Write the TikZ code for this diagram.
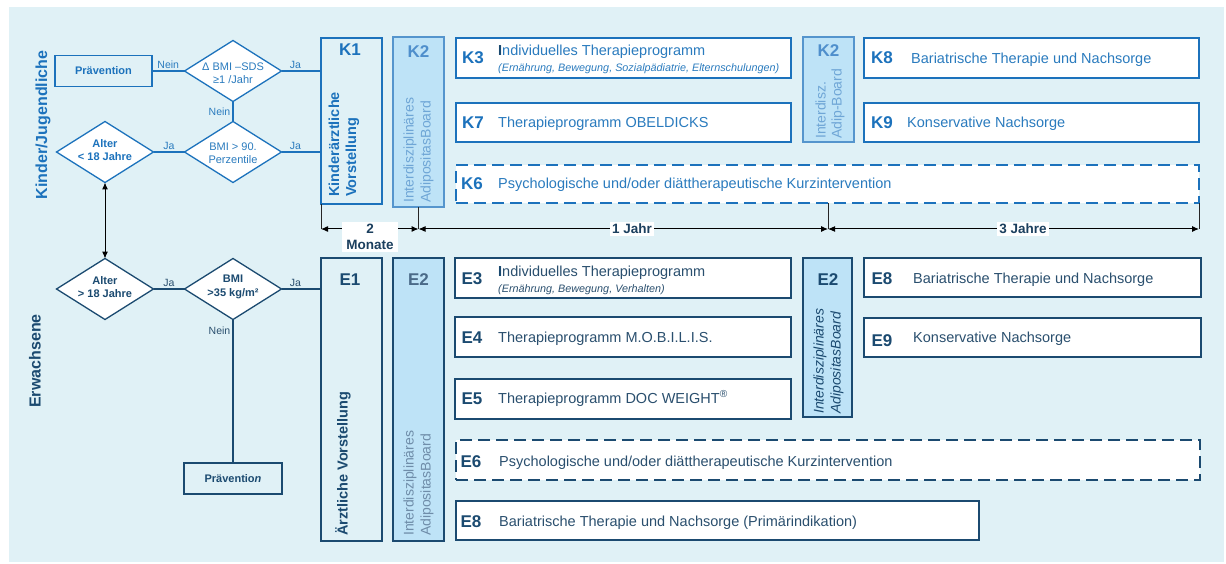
\documentclass[tikz,border=0pt]{standalone}
\usepackage{fontspec}
\setmainfont{Liberation Sans}
\usetikzlibrary{shapes.geometric,arrows.meta}
\definecolor{bg}{HTML}{E0F1F6}
\definecolor{kblue}{HTML}{1C72BC}
\definecolor{ktext}{HTML}{2A7BBE}
\definecolor{navy}{HTML}{1B4A70}
\definecolor{etext}{HTML}{2A4F6E}
\definecolor{lfill}{HTML}{BEE3F7}
\definecolor{kfade}{HTML}{6FA6D6}
\definecolor{kmid}{HTML}{4F8FCC}
\definecolor{efade}{HTML}{6F8DA9}
\definecolor{emid}{HTML}{4A6A88}
\definecolor{tldark}{HTML}{1B3F5E}
\newcommand\fs[2]{\fontsize{#1}{#2}\selectfont}
\tikzset{
  box/.style={line width=2.9pt, outer sep=0pt, inner sep=0pt, anchor=north west},
  kbox/.style={box, draw=kblue, fill=white},
  ebox/.style={box, draw=navy, fill=white},
  kopen/.style={box, draw=kblue},
  eopen/.style={box, draw=navy},
  kboard/.style={box, draw=kblue!75, fill=lfill, line width=2.5pt},
  eboard/.style={box, draw=navy, fill=lfill, line width=2.5pt},
  kdashed/.style={kbox, dash pattern=on 12pt off 6pt},
  edashed/.style={ebox, dash pattern=on 12pt off 6pt},
  pbox/.style={box, line width=1.4pt},
  dia/.style={diamond, fill=white, line width=1.3pt, minimum width=97pt,
    minimum height=61pt, inner sep=0pt, outer sep=0pt},
  dtext/.style={align=center, inner sep=0pt, font=\fs{11}{13.5}},
  klab/.style={anchor=base, inner sep=0pt, font=\fs{17}{20}\bfseries, text=kblue},
  elab/.style={anchor=base, inner sep=0pt, font=\fs{17}{20}\bfseries, text=navy},
  ktxt/.style={anchor=base west, inner sep=0pt, font=\fs{14.5}{17}, text=ktext},
  etxt/.style={anchor=base west, inner sep=0pt, font=\fs{14.5}{17}, text=etext},
  ksub/.style={anchor=base west, inner sep=0pt, font=\fs{10.8}{12}\itshape, text=ktext},
  esub/.style={anchor=base west, inner sep=0pt, font=\fs{10.8}{12}\itshape, text=etext},
  rot/.style={rotate=90, anchor=west, align=left, inner sep=0pt},
  kline/.style={draw=kblue, line width=1.4pt},
  eline/.style={draw=navy, line width=1.4pt},
  klbl/.style={font=\fs{10.5}{12}, text=ktext, inner sep=2pt},
  elbl/.style={font=\fs{10.5}{12}, text=etext, inner sep=2pt},
  tick/.style={draw=black!85, line width=1pt},
  span/.style={draw=black, line width=1pt, {Latex[length=7pt,width=6pt]}-{Latex[length=7pt,width=6pt]}},
  tl/.style={fill=white, font=\fs{13.5}{16}\bfseries, text=tldark, align=center, inner sep=2pt}
}
\begin{document}
\begin{tikzpicture}[x=1pt,y=-1pt]
\useasboundingbox (0,0) rectangle (1226,564);
\fill[bg] (9,7) rectangle (1224,562);

% section titles
\node[rotate=90, font=\fs{16}{19}\bfseries, text=kblue, inner sep=0pt] (tkinder) at (43,125) {Kinder/Jugendliche};
\node[rotate=90, font=\fs{16}{19}\bfseries, text=navy, inner sep=0pt] (terw) at (35,361) {Erwachsene};

% ---------- Kinder decision part ----------
\node[pbox, draw=kblue, minimum width=97pt, minimum height=31pt] (p1) at (55,55.5) {};
\node[font=\fs{11}{13}\bfseries, text=kblue] (p1t) at (p1.center) {Prävention};
\node[dia, draw=kblue] (d1) at (233,71) {};
\node[dtext, text=ktext] (d1t) at (233,73) {Δ BMI –SDS\\≥1 /Jahr};
\node[dia, draw=kblue] (d2) at (233,152) {};
\node[dtext, text=ktext] (d2t) at (233,153) {BMI > 90.\\Perzentile};
\node[dia, draw=kblue] (a1) at (105,152) {};
\node[dtext, text=kblue, font=\fs{11}{13.5}\bfseries] (a1t) at (105,150) {Alter\\< 18 Jahre};

% ---------- Erwachsene decision part ----------
\node[dia, draw=navy] (a2) at (105,289) {};
\node[dtext, text=navy, font=\fs{11}{13.5}\bfseries] (a2t) at (105,287) {Alter\\> 18 Jahre};
\node[dia, draw=navy] (d3) at (233,289) {};
\node[dtext, text=navy, font=\fs{11}{13.5}\bfseries] (d3t) at (233,287) {BMI\\>35 kg/m²};
\node[pbox, draw=navy, minimum width=98pt, minimum height=31pt] (p2) at (184,463) {};
\node[font=\fs{11}{13}\bfseries, text=navy] (p2t) at (p2.center) {Präventio\textit{n}};

% ---------- Kinder boxes ----------
\node[kopen, minimum width=61pt, minimum height=166pt] (k1) at (321,38) {};
\node[klab] (k1l) at (350,56) {K1};
\node[rot, font=\fs{14.5}{17}\bfseries, text=kblue] (k1t) at (344,197) {Kinderärztliche\\Vorstellung};

\node[kboard, minimum width=51pt, minimum height=170pt] (k2) at (393,37) {};
\node[klab, text=kmid] (k2l) at (418.5,58) {K2};
\node[rot, font=\fs{14}{17}, text=kfade] (k2t) at (418.5,203) {Interdisziplinäres\\AdipositasBoard};

\node[kbox, minimum width=335pt, minimum height=40pt] (k3) at (456,38) {};
\node[klab] (k3l) at (473,64) {K3};
\node[ktxt] (k3t) at (498,56) {{\bfseries\color{navy}I}ndividuelles Therapieprogramm};
\node[ksub] (k3s) at (498,72) {(Ernährung, Bewegung, Sozialpädiatrie, Elternschulungen)};

\node[kbox, minimum width=335pt, minimum height=39pt] (k7) at (456,103) {};
\node[klab] (k7l) at (473,129) {K7};
\node[ktxt] (k7t) at (498,128) {Therapieprogramm OBELDICKS};

\node[kboard, minimum width=51pt, minimum height=105pt] (k2b) at (803,37) {};
\node[klab, text=kmid] (k2bl) at (828.5,57) {K2};
\node[rot, font=\fs{14}{16}, text=kfade] (k2bt) at (830,139) {Interdisz.\\Adip-Board};

\node[kbox, minimum width=335pt, minimum height=40pt] (k8) at (864,38) {};
\node[klab] (k8l) at (882,64) {K8};
\node[ktxt] (k8t) at (911,64) {Bariatrische Therapie und Nachsorge};

\node[kbox, minimum width=335pt, minimum height=39pt] (k9) at (864,103) {};
\node[klab] (k9l) at (882,129) {K9};
\node[ktxt] (k9t) at (907,128) {Konservative Nachsorge};

\node[kdashed, minimum width=743pt, minimum height=38pt] (k6) at (456,165) {};
\node[klab] (k6l) at (472,190) {K6};
\node[ktxt] (k6t) at (498,189) {Psychologische und/oder diättherapeutische Kurzintervention};

% ---------- Erwachsene boxes ----------
\node[eopen, minimum width=61pt, minimum height=283pt] (e1) at (321,258) {};
\node[elab] (e1l) at (350,285) {E1};
\node[rot, font=\fs{14.5}{17}\bfseries, text=navy] (e1t) at (343,536) {Ärztliche Vorstellung};

\node[eboard, minimum width=51pt, minimum height=283pt] (e2) at (393,258) {};
\node[elab, text=emid] (e2l) at (418.5,285) {E2};
\node[rot, font=\fs{14}{17}, text=efade] (e2t) at (418.5,536) {Interdisziplinäres\\AdipositasBoard};

\node[ebox, minimum width=336pt, minimum height=40pt] (e3) at (455,258) {};
\node[elab] (e3l) at (472,284) {E3};
\node[etxt] (e3t) at (498,276) {{\bfseries\color{navy}I}ndividuelles Therapieprogramm};
\node[esub] (e3s) at (498,292) {(Ernährung, Bewegung, Verhalten)};

\node[ebox, minimum width=336pt, minimum height=40pt] (e4) at (455,317) {};
\node[elab] (e4l) at (472,343) {E4};
\node[etxt] (e4t) at (498,342) {Therapieprogramm M.O.B.I.L.I.S.};

\node[ebox, minimum width=336pt, minimum height=40pt] (e5) at (455,379) {};
\node[elab] (e5l) at (472,404) {E5};
\node[etxt] (e5t) at (498,403) {Therapieprogramm DOC WEIGHT\textsuperscript{®}};

\node[eboard, minimum width=49pt, minimum height=159pt] (e2b) at (803,258) {};
\node[elab] (e2bl) at (828,285) {E2};
\node[rot, font=\fs{14}{17}\itshape, text=navy] (e2bt) at (828.5,414) {Interdisziplinäres\\AdipositasBoard};

\node[ebox, minimum width=337pt, minimum height=39pt] (e8) at (864,258) {};
\node[elab] (e8l) at (882,284) {E8};
\node[etxt] (e8t) at (913,283) {Bariatrische Therapie und Nachsorge};

\node[ebox, minimum width=337pt, minimum height=39pt] (e9) at (864,318) {};
\node[elab] (e9l) at (882,346) {E9};
\node[etxt] (e9t) at (913,342) {Konservative Nachsorge};

\node[edashed, minimum width=744pt, minimum height=40pt] (e6) at (456,440) {};
\node[elab] (e6l) at (471,467) {E6};
\node[etxt] (e6t) at (499,466) {Psychologische und/oder diättherapeutische Kurzintervention};

\node[ebox, minimum width=523pt, minimum height=39pt] (e8b) at (456,501) {};
\node[elab] (e8bl) at (471,527) {E8};
\node[etxt] (e8bt) at (499,526) {Bariatrische Therapie und Nachsorge (Primärindikation)};

% ---------- connectors ----------
\draw[kline] (p1.east) -- node[klbl, above] (n1) {Nein} (d1.west);
\draw[kline] (d1.east) -- node[klbl, above, pos=0.35] (j1) {Ja} (d1.east -| k1.west);
\draw[kline] (d1.south) -- node[klbl, left] (n2) {Nein} (d2.north);
\draw[kline] (a1.east) -- node[klbl, above] (j2) {Ja} (d2.west);
\draw[kline] (d2.east) -- node[klbl, above, pos=0.35] (j3) {Ja} (d2.east -| k1.west);
\draw[span] (a1.south) -- (a2.north);
\draw[eline] (a2.east) -- node[elbl, above] (j4) {Ja} (d3.west);
\draw[eline] (d3.east) -- node[elbl, above, pos=0.35] (j5) {Ja} (d3.east -| e1.west);
\draw[eline] (d3.south) -- node[elbl, left, pos=0.08] (n3) {Nein} (p2.north);

% ---------- timeline ----------
\coordinate (t0) at (321,229);
\coordinate (t1) at (418.5,229);
\coordinate (t2) at (828,229);
\coordinate (t3) at (1199,229);
\draw[tick] (k1.south west) -- (t0);
\draw[tick] (k2.south) -- (t1);
\draw[tick] (t2 |- k6.south) -- (t2);
\draw[tick] (k6.south east) -- (t3);
\draw[span] (t0) -- (t1);
\draw[span] (t1) -- (t2);
\draw[span] (t2) -- (t3);
\node[tl, minimum width=56pt] (tl1) at (370,237) {2\\Monate};
\node[tl] (tl2) at (632,229) {1 Jahr};
\node[tl] (tl3) at (1023,229) {3 Jahre};
\end{tikzpicture}
\end{document}
